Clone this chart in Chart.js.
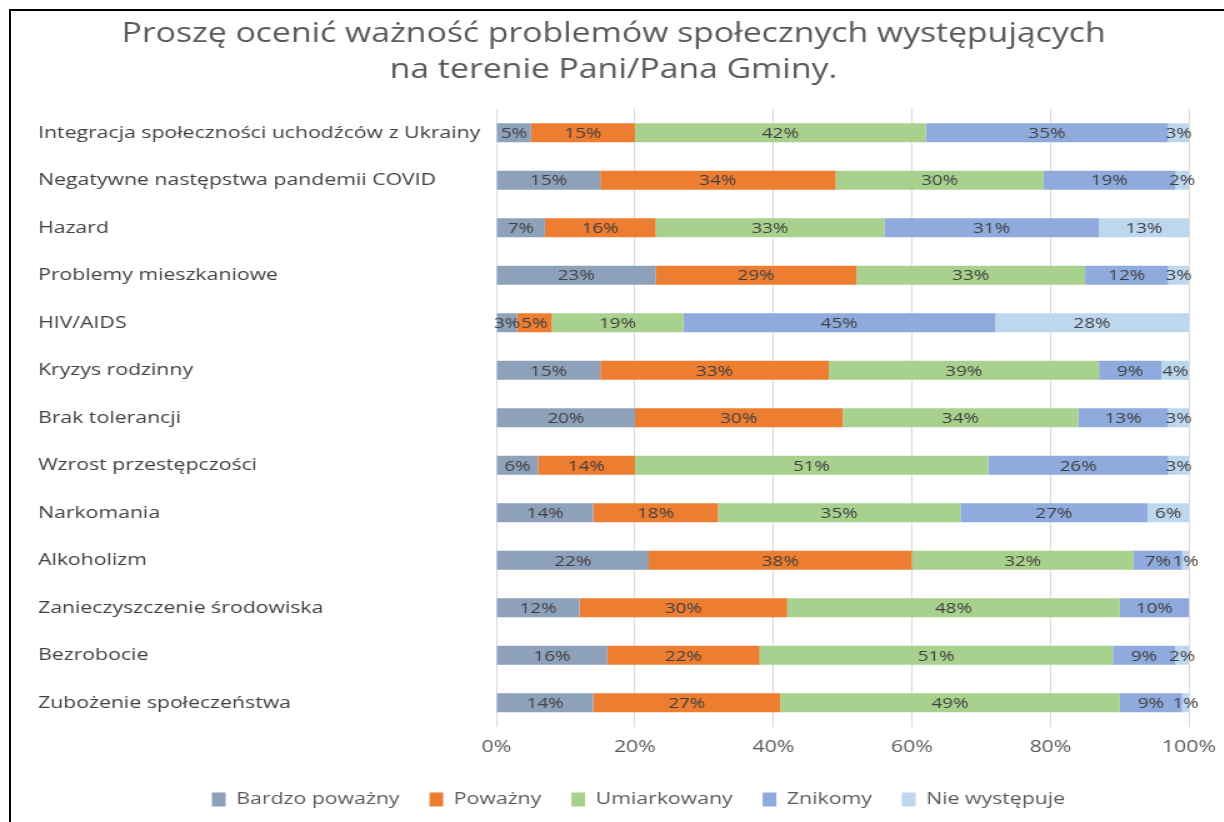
<!DOCTYPE html>
<html>
<head>
<meta charset="utf-8">
<script src="https://cdn.jsdelivr.net/npm/chart.js"></script>
<style>
  html, body { margin: 0; padding: 0; background: #fff; overflow: hidden; }
  #frame { position: absolute; left: 9px; top: 9px; width: 1400px; height: 1000px;
           border-top: 2px solid #000; border-left: 2px solid #000; }
  /* the original picture is stretched horizontally, so draw narrower and stretch */
  #wrap { position: absolute; left: 0; top: 0; width: 979.2px; height: 822px;
          transform: scaleX(1.25); transform-origin: 0 0; }
</style>
</head>
<body>
<div id="frame"></div>
<div id="wrap"><canvas id="problemsChart"></canvas></div>
<script>
// categories (top to bottom) and answer shares in %
const categories = [
    'Integracja społeczności uchodźców z Ukrainy',
    'Negatywne następstwa pandemii COVID',
    'Hazard',
    'Problemy mieszkaniowe',
    'HIV/AIDS',
    'Kryzys rodzinny',
    'Brak tolerancji',
    'Wzrost przestępczości',
    'Narkomania',
    'Alkoholizm',
    'Zanieczyszczenie środowiska',
    'Bezrobocie',
    'Zubożenie społeczeństwa'
];
const bardzoPowazny = [5, 15, 7, 23, 3, 15, 20, 6, 14, 22, 12, 16, 14];
const powazny       = [15, 34, 16, 29, 5, 33, 30, 14, 18, 38, 30, 22, 27];
const umiarkowany   = [42, 30, 33, 33, 19, 39, 34, 51, 35, 32, 48, 51, 49];
const znikomy       = [35, 19, 31, 12, 45, 9, 13, 26, 27, 7, 10, 9, 9];
const nieWystepuje  = [3, 2, 13, 3, 28, 4, 3, 3, 6, 1, 0, 2, 1];
const xTicks = [0, 20, 40, 60, 80, 100];

const FONT = '"Open Sans", "Noto Sans", sans-serif';

// simple in-bar value labels (no datalabels plugin available offline)
const barLabels = {
    id: 'barLabels',
    afterDatasetsDraw(chart) {
        const ctx = chart.ctx;
        ctx.save();
        ctx.font = '15px ' + FONT;
        ctx.fillStyle = '#404040';
        ctx.textAlign = 'center';
        ctx.textBaseline = 'middle';
        chart.data.datasets.forEach((ds, i) => {
            const meta = chart.getDatasetMeta(i);
            meta.data.forEach((bar, j) => {
                const v = ds.data[j];
                if (!v) return;
                ctx.fillText(v + '%', (bar.x + bar.base) / 2, bar.y + 1);
            });
        });
        ctx.restore();
    }
};

// legend sits a bit right of the canvas centre in the original
const legendShift = {
    id: 'legendShift',
    afterLayout(chart) {
        chart.legend.left += 20;
        chart.legend.right += 20;
    }
};

new Chart(document.getElementById('problemsChart'), {
    type: 'bar',
    data: {
        labels: categories,
        datasets: [
            { label: 'Bardzo poważny', data: bardzoPowazny, backgroundColor: '#8EA1BB' },
            { label: 'Poważny', data: powazny, backgroundColor: '#ED7D31' },
            { label: 'Umiarkowany', data: umiarkowany, backgroundColor: '#A9D18E' },
            { label: 'Znikomy', data: znikomy, backgroundColor: '#8FAADC' },
            { label: 'Nie występuje', data: nieWystepuje, backgroundColor: '#BDD7EE' }
        ]
    },
    options: {
        indexAxis: 'y',
        responsive: true,
        maintainAspectRatio: false,
        animation: false,
        barPercentage: 0.4,
        categoryPercentage: 1,
        layout: { padding: { left: 30.4, right: 28, top: 10, bottom: 4 } },
        scales: {
            x: {
                stacked: true,
                min: 0,
                max: 100,
                afterBuildTicks: axis => { axis.ticks = xTicks.map(v => ({ value: v })); },
                afterFit: axis => { axis.paddingRight = 0; },
                ticks: {
                    callback: v => v + '%',
                    color: '#595959',
                    font: { family: FONT, size: 17 },
                    padding: 10
                },
                grid: { color: '#D9D9D9', drawTicks: false },
                border: { display: false }
            },
            y: {
                stacked: true,
                ticks: {
                    crossAlign: 'far',
                    color: '#404040',
                    font: { family: FONT, size: 17 },
                    padding: 6.4
                },
                grid: { display: false, drawTicks: false },
                border: { display: false }
            }
        },
        plugins: {
            title: {
                display: true,
                text: ['Proszę ocenić ważność problemów społecznych występujących', 'na terenie Pani/Pana Gminy.'],
                color: '#595959',
                font: { family: FONT, size: 27, weight: 'normal', lineHeight: 1.35 },
                padding: { top: 6, bottom: 20 }
            },
            legend: {
                position: 'bottom',
                labels: {
                    color: '#595959',
                    font: { family: FONT, size: 17 },
                    boxWidth: 11,
                    boxHeight: 14,
                    padding: 24
                }
            },
            tooltip: { enabled: false }
        }
    },
    plugins: [barLabels, legendShift]
});
</script>
</body>
</html>
